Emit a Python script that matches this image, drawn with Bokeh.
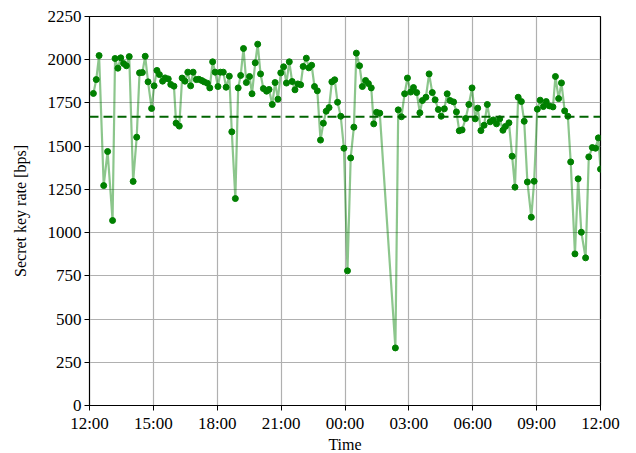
from bokeh.plotting import figure
from bokeh.models import FixedTicker, Span, ColumnDataSource
from bokeh.embed import file_html
from bokeh.resources import INLINE

# ---- data ----
times = ["12:11", "12:19", "12:27", "12:40", "12:51", "13:05", "13:12", "13:20", "13:28", "13:36",
         "13:44", "13:52", "14:03", "14:13", "14:21", "14:29", "14:37", "14:45", "14:55", "15:02",
         "15:10", "15:17", "15:26", "15:33", "15:42", "15:49", "15:58", "16:04", "16:13", "16:21",
         "16:29", "16:37", "16:45", "16:52", "17:01", "17:08", "17:16", "17:23", "17:32", "17:39",
         "17:47", "17:54", "18:02", "18:09", "18:17", "18:25", "18:34", "18:41", "18:51", "18:59",
         "19:06", "19:14", "19:22", "19:31", "19:38", "19:47", "19:54", "20:02", "20:10", "20:19",
         "20:26", "20:35", "20:43", "20:51", "20:59", "21:07", "21:15", "21:23", "21:31", "21:39",
         "21:47", "21:55", "22:02", "22:11", "22:18", "22:26", "22:34", "22:42", "22:51", "22:59",
         "23:07", "23:15", "23:23", "23:31", "23:39", "23:48", "23:57", "00:07", "00:16", "00:25",
         "00:32", "00:41", "00:49", "00:58", "01:06", "01:14", "01:21", "01:29", "01:38", "02:22",
         "02:30", "02:39", "02:48", "02:56", "03:05", "03:13", "03:22", "03:31", "03:38", "03:48",
         "03:57", "04:06", "04:14", "04:23", "04:31", "04:40", "04:48", "04:56", "05:06", "05:14",
         "05:22", "05:30", "05:40", "05:49", "05:58", "06:07", "06:14", "06:23", "06:32", "06:41",
         "06:49", "06:58", "07:07", "07:16", "07:25", "07:32", "07:42", "07:51", "07:59", "08:08",
         "08:17", "08:25", "08:34", "08:45", "08:53", "09:02", "09:10", "09:19", "09:27", "09:36",
         "09:46", "09:53", "10:02", "10:10", "10:19", "10:28", "10:36", "10:48", "10:57", "11:06",
         "11:18", "11:27", "11:37", "11:46", "11:54", "12:00"]
rates = [1805, 1885, 2024, 1272, 1469, 1070, 2007, 1951, 2011, 1978,
         1965, 2018, 1296, 1552, 1924, 1926, 2020, 1872, 1718, 1849,
         1938, 1914, 1876, 1895, 1889, 1857, 1847, 1633, 1616, 1894,
         1876, 1928, 1849, 1928, 1885, 1887, 1880, 1872, 1864, 1837,
         1988, 1928, 1845, 1928, 1928, 1841, 1905, 1583, 1197, 1837,
         1909, 2065, 1868, 1903, 1803, 1982, 2090, 1918, 1833, 1818,
         1828, 1741, 1868, 1772, 1924, 1959, 1865, 1988, 1874, 1826,
         1860, 1855, 1961, 2009, 1953, 1968, 1845, 1820, 1535, 1633,
         1702, 1723, 1872, 1884, 1754, 1673, 1488, 779, 1432, 1610,
         2038, 1965, 1845, 1880, 1862, 1837, 1629, 1696, 1691, 333,
         1710, 1670, 1803, 1894, 1813, 1839, 1810, 1693, 1764, 1783,
         1918, 1810, 1768, 1712, 1673, 1716, 1803, 1764, 1756, 1698,
         1589, 1594, 1660, 1741, 1837, 1658, 1720, 1590, 1621, 1741,
         1641, 1652, 1629, 1658, 1592, 1614, 1635, 1442, 1263, 1783,
         1758, 1644, 1293, 1089, 1297, 1714, 1766, 1729, 1758, 1733,
         1727, 1903, 1775, 1866, 1704, 1673, 1409, 877, 1311, 1002,
         854, 1438, 1492, 1488, 1548, 1367]
mean_rate = 1670
tick_labels = ["12:00", "15:00", "18:00", "21:00", "00:00", "03:00", "06:00", "09:00", "12:00"]
y_ticks = [0, 250, 500, 750, 1000, 1250, 1500, 1750, 2000, 2250]

# hours elapsed since 12:00 (with day rollover)
hours = []
offset = 0.0
prev = None
for t in times:
    hh, mm = t.split(":")
    h = int(hh) + int(mm) / 60.0 - 12.0
    if h < 0:
        h += 24.0
    if prev is not None and h + offset < prev:
        offset += 24.0
    hours.append(h + offset)
    prev = h + offset

src = ColumnDataSource(dict(x=hours, y=rates))

FONT = "Liberation Serif"

p = figure(output_backend="svg", toolbar_location=None,
           frame_width=511, frame_height=389,
           x_range=(0, 24), y_range=(0, 2250),
           min_border_left=89, min_border_right=20, min_border_top=16, min_border_bottom=36,
           background_fill_color="white", border_fill_color="white")

x_ticks = [i * 3 for i in range(len(tick_labels))]
p.xaxis.ticker = FixedTicker(ticks=x_ticks)
p.xaxis.major_label_overrides = {t: lab for t, lab in zip(x_ticks, tick_labels)}
p.yaxis.ticker = FixedTicker(ticks=y_ticks)

p.xaxis.axis_label = "Time"
p.yaxis.axis_label = "Secret key rate [bps]"

for ax in (p.xaxis[0], p.yaxis[0]):
    ax.axis_label_text_font = FONT
    ax.axis_label_text_font_size = "16px"
    ax.axis_label_text_font_style = "normal"
    ax.axis_label_text_color = "black"
    ax.major_label_text_font = FONT
    ax.major_label_text_font_size = "17px"
    ax.major_label_text_color = "black"
    ax.axis_line_color = "black"
    ax.major_tick_line_color = "black"
    ax.major_tick_out = 5
    ax.major_tick_in = 0
    ax.minor_tick_line_color = None
    ax.major_label_standoff = 3
p.xaxis.axis_label_standoff = 0
p.yaxis.axis_label_standoff = 16

p.xgrid.ticker = FixedTicker(ticks=x_ticks)
p.ygrid.ticker = FixedTicker(ticks=y_ticks)
p.grid.grid_line_color = "#b0b0b0"
p.grid.grid_line_width = 1.2

p.outline_line_color = "black"
p.outline_line_width = 1.2

p.line("x", "y", source=src, line_color="green", line_alpha=0.45, line_width=2.2)
p.scatter("x", "y", source=src, size=6, fill_color="green", line_color="green")

p.add_layout(Span(location=mean_rate, dimension="width", line_color="darkgreen",
                  line_dash="9 5", line_width=2))

open("out.html", "w").write(file_html(p, INLINE))
